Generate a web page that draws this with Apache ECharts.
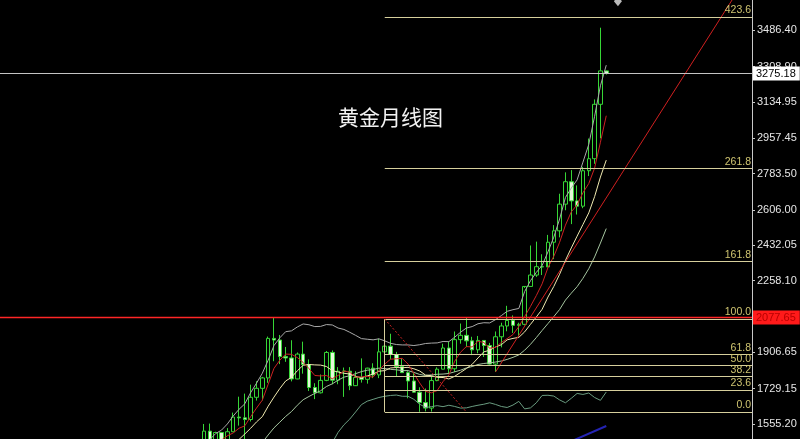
<!DOCTYPE html>
<html><head><meta charset="utf-8">
<script src="https://cdn.jsdelivr.net/npm/echarts@6/dist/echarts.min.js"></script>
<style>html,body{margin:0;padding:0;background:#000;}#c{width:800px;height:439px;}</style>
</head><body><div id="c"></div>
<script>
// ---- data (monthly gold, Aug 2019 .. May 2025) ----
const firstYear = 2016, firstMonth = 9;   // first slot on the time axis
const slotCount = 130;                     // monthly slots shown
const startIdx = 35;                       // slot of Aug 2019 (first candle)

const opens = [1413,1520,1472,1513,1464,
 1517,1589,1585,1577,1686,1730,1781,1975,1967,1886,1879,1776,
 1898,1847,1734,1708,1769,1906,1770,1814,1814,1743,1783,1774,
 1829,1796,1909,1937,1896,1837,1807,1766,1711,1660,1633,1768,
 1824,1928,1826,1969,1990,1963,1919,1965,1940,1849,1983,2036,
 2063,2039,2044,2230,2286,2327,2326,2447,2503,2634,2744,2650,
 2624,2798,2857,3124,3288];
const highs = [1555,1557,1517,1516,1535,
 1611,1689,1704,1748,1765,1786,1984,2075,1992,1933,1966,1906,
 1959,1872,1755,1798,1913,1916,1834,1832,1834,1814,1877,1831,
 1853,1974,2070,1998,1909,1879,1814,1807,1735,1729,1786,1833,
 1949,1960,2009,2048,2079,1983,1987,1966,1953,2009,2052,2135,
 2088,2052,2223,2431,2450,2388,2483,2531,2685,2790,2801,2726,
 2817,2956,3148,3500,3290];
const lows = [1400,1459,1459,1445,1459,
 1517,1547,1451,1567,1670,1671,1757,1863,1849,1860,1764,1775,
 1802,1717,1677,1705,1765,1750,1750,1688,1721,1746,1758,1753,
 1780,1780,1890,1872,1787,1805,1681,1709,1615,1617,1616,1765,
 1823,1804,1810,1949,1932,1893,1902,1884,1846,1810,1931,2010,
 2002,1985,2039,2229,2277,2286,2353,2364,2471,2604,2536,2583,
 2614,2772,2832,2957,3270];
const closes = [1520,1472,1513,1464,1517,
 1589,1585,1577,1686,1730,1781,1975,1967,1886,1879,1776,1898,
 1847,1734,1708,1769,1906,1770,1814,1814,1743,1783,1774,1829,
 1796,1909,1937,1896,1837,1807,1766,1711,1660,1633,1768,1824,
 1928,1826,1969,1990,1963,1919,1965,1940,1849,1983,2036,2063,
 2039,2044,2230,2286,2327,2326,2447,2503,2634,2744,2650,2624,
 2798,2857,3124,3288,3275.18];

// indicator lines
const ma5 = [1386,1424,1465,1476,1497,
 1511,1534,1546,1591,1633,1672,1750,1828,1868,1898,1897,1881,
 1857,1827,1793,1791,1793,1777,1793,1815,1809,1785,1786,1789,
 1785,1818,1849,1873,1875,1877,1849,1803,1756,1715,1708,1719,
 1763,1796,1863,1907,1935,1933,1961,1955,1927,1931,1955,1974,
 1994,2033,2082,2132,2185,2243,2323,2378,2447,2531,2596,2631,
 2690,2735,2811,2938,3068];
const ma10 = [1336,1361,1384,1399,1419,
 1449,1479,1506,1534,1565,1591,1642,1687,1729,1766,1784,1816,
 1843,1847,1845,1844,1837,1817,1810,1804,1800,1789,1782,1791,
 1800,1814,1817,1830,1832,1831,1833,1826,1815,1795,1792,1784,
 1783,1776,1789,1808,1827,1848,1879,1909,1917,1933,1944,1968,
 1975,1980,2007,2044,2080,2118,2178,2230,2290,2358,2419,2477,
 2534,2591,2671,2767,2850];
const bbMid = [1302,1309,1318,1325,1335,
 1350,1367,1384,1409,1435,1464,1501,1536,1564,1592,1616,1647,
 1674,1690,1705,1718,1739,1752,1770,1785,1792,1802,1812,1819,
 1822,1829,1827,1823,1821,1817,1817,1808,1798,1793,1796,1799,
 1800,1803,1811,1819,1830,1837,1847,1852,1855,1859,1864,1872,
 1882,1894,1917,1946,1979,2014,2048,2082,2117,2163,2197,2229,
 2270,2317,2375,2443,2514];
const bbUp = [1458,1479,1508,1525,1555,
 1594,1627,1654,1709,1755,1804,1868,1940,1978,2008,2012,2031,
 2046,2042,2033,2034,2043,2041,2026,2019,2005,1990,1974,1971,
 1968,1973,1963,1951,1945,1943,1943,1940,1944,1950,1952,1953,
 1960,1959,1981,2005,2026,2033,2047,2052,2051,2067,2087,2108,
 2116,2122,2205,2258,2299,2333,2400,2472,2561,2667,2713,2753,
 2840,2927,3065,3215,3316];
const bbLow = [1146,1139,1128,1125,1115,
 1106,1107,1114,1109,1115,1124,1134,1132,1150,1176,1220,1263,
 1302,1338,1377,1402,1435,1463,1514,1551,1579,1614,1650,1667,
 1676,1685,1691,1695,1697,1691,1691,1676,1652,1636,1640,1645,
 1640,1647,1641,1633,1634,1641,1647,1652,1659,1651,1641,1636,
 1648,1666,1629,1634,1659,1695,1696,1692,1673,1659,1681,1705,
 1700,1707,1685,1671,1712];

const fibLevels = [1614, 1721.6, 1788.2, 1842, 1895.8, 2070, 2351.8, 2807.8, 3552];
const fibLabels = ['0.0','23.6','38.2','50.0','61.8','100.0','161.8','261.8','423.6'];
const fibStartIdx = 66;
const yTicks = [1555.20,1729.15,1906.65,2258.10,2432.05,2606.00,2783.50,2957.45,3134.95,3308.90,3486.40];
const yMin = 1481.3, yMax = 3635.9;
const lastPrice = 3275.18;
const resistance = 2077.65;
const trendLine = [[85,1810],[127,3700]];
const dashLine = [[66,2070],[80,1614]];
const blueLine = [[98,1470],[104,1545]];
const topArrow = [[106, 3630]];

// ---- chart ----
const cats = [];
for (let i = 0; i < slotCount; i++) {
  const m = firstMonth - 1 + i;
  cats.push((firstYear + Math.floor(m / 12)) + '.' + String(m % 12 + 1).padStart(2, '0'));
}
const at = arr => arr.map((v, i) => [startIdx + i, v]);
const candles = opens.map((o, i) => [startIdx + i, o, closes[i], lows[i], highs[i]]);

const fibColor = '#d6cf9c', fibText = '#cfc470';
const markData = [];
fibLevels.forEach((v, k) => {
  markData.push([
    {coord: [fibStartIdx, v], lineStyle: {color: fibColor, width: 1, type: 'solid'},
     label: {show: true, formatter: fibLabels[k], position: 'insideEndTop', distance: [1, 1],
             color: fibText, fontSize: 10.5, fontFamily: 'Liberation Sans'}},
    {coord: [slotCount - 1, v]}
  ]);
});
markData.push([{coord: [fibStartIdx, fibLevels[5]], lineStyle: {color: fibColor, width: 1, type: 'solid'}, label: {show: false}},
               {coord: [fibStartIdx, fibLevels[0]]}]);
markData.push([{coord: dashLine[0], lineStyle: {color: '#d42424', width: 1, type: [2, 2]}, label: {show: false}},
               {coord: dashLine[1]}]);
markData.push({yAxis: resistance, lineStyle: {color: '#ff2626', width: 1.3, type: 'solid'},
  label: {show: true, position: 'end', distance: 1, formatter: resistance.toFixed(2),
          backgroundColor: '#ff1a1a', color: '#b80000', padding: [2, 4, 1, 3], fontSize: 11, fontFamily: 'Liberation Sans'}});
markData.push({yAxis: lastPrice, lineStyle: {color: '#c4c4c4', width: 1, type: 'solid'},
  label: {show: true, position: 'end', distance: 1, formatter: lastPrice.toFixed(2),
          backgroundColor: '#ffffff', color: '#000000', padding: [2, 4, 1, 3], fontSize: 11, fontFamily: 'Liberation Sans'}});

const lineSeries = (name, data, color, width) => ({
  name, type: 'line', data, showSymbol: false, symbol: 'none', z: 3,
  lineStyle: {color, width: width || 1}, silent: true, clip: true
});

const chart = echarts.init(document.getElementById('c'), null, {renderer: 'canvas'});
chart.setOption({
  backgroundColor: '#000000',
  animation: false,
  title: {text: '黄金月线图', left: 333, top: 102,
    textStyle: {color: '#f2f2f2', fontSize: 21, fontWeight: 'normal', fontFamily: 'Noto Sans CJK SC'}},
  grid: {left: 0, right: 48, top: 0, bottom: 0},
  xAxis: {type: 'category', data: cats, boundaryGap: false, show: false},
  yAxis: {type: 'value', position: 'right', min: yMin, max: yMax,
    splitLine: {show: false},
    axisLine: {show: true, lineStyle: {color: '#c8c8c8'}},
    axisTick: {show: true, customValues: yTicks, length: 3, lineStyle: {color: '#c8c8c8'}},
    axisLabel: {customValues: yTicks, formatter: v => v.toFixed(2), color: '#e6e6e6',
      fontSize: 11, fontFamily: 'Liberation Sans', margin: 5}},
  series: [
    {type: 'line', data: [], markLine: {symbol: ['none', 'none'], silent: true, animation: false, data: markData}, z: 1},
    lineSeries('bbUp', at(bbUp), '#a9a9a9'),
    lineSeries('bbMid', at(bbMid), '#a6c6a0'),
    lineSeries('bbLow', at(bbLow), '#6a9c80'),
    {type: 'candlestick', data: candles, encode: {x: 0, y: [1, 2, 3, 4]}, barWidth: 4, z: 2, clip: true,
      itemStyle: {color: '#000000', color0: '#e4f8da', borderColor: '#36d636', borderColor0: '#36d636', borderWidth: 1}},
    lineSeries('ma10', at(ma10), '#f0eab0'),
    lineSeries('ma5', at(ma5), '#cc2222'),
    lineSeries('trend', trendLine, '#d02020'),
    lineSeries('blue', blueLine, '#2424b4', 2),
    {type: 'scatter', data: topArrow, symbol: 'diamond', symbolSize: [8, 10], itemStyle: {color: '#e8e8e8'}, z: 5, silent: true}
  ]
});
</script></body></html>
